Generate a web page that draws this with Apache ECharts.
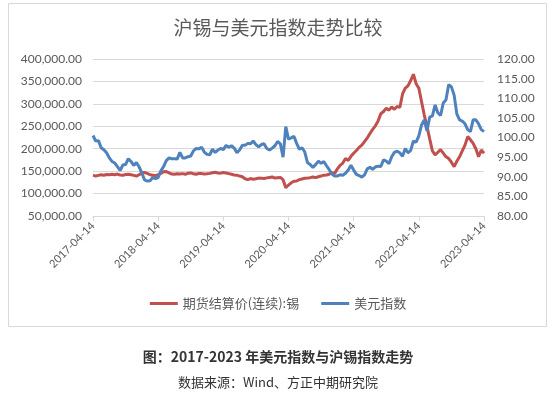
<!DOCTYPE html>
<html>
<head>
<meta charset="utf-8">
<script src="https://cdn.jsdelivr.net/npm/echarts@6/dist/echarts.min.js"></script>
<style>
html,body{margin:0;padding:0;background:#fff;}
#c{width:556px;height:395px;}
</style>
</head>
<body>
<div id="c"></div>
<script>
// Tick labels shown on the x axis
const tickLabels = ['2017-04-14','2018-04-14','2019-04-14','2020-04-14','2021-04-14','2022-04-14','2023-04-14'];

// Semi-monthly categories from 2017-04-14 to 2023-04-14
const categories = [];
for (let y = 2017; y <= 2023; y++) {
  for (let m = 1; m <= 12; m++) {
    for (const d of [14, 28]) {
      const s = y + '-' + String(m).padStart(2, '0') + '-' + d;
      if (s >= '2017-04-14' && s <= '2023-04-14') categories.push(s);
    }
  }
}

// 期货结算价(连续):锡 (yuan/ton)
const tinPrice = [
  141000,139000,140500,142000,141000,142500,142000,143000,142000,143500,141500,141000,142500,143000,142000,140500,139000,142000,
  146500,147000,145000,142000,141000,140000,142000,145000,148500,149000,146000,143500,143000,144000,143500,144500,143000,145500,146000,144000,143000,145000,144500,143500,
  144000,145000,146500,147500,146000,145500,147000,146000,144500,143000,141500,141000,139000,137500,133000,131000,133500,132000,133000,134500,134000,133500,135000,136000,
  137000,134500,135500,136000,131000,113000,119000,124000,127500,128000,131000,132500,134000,134500,135500,137000,135500,137500,139000,141000,141500,143000,146500,145000,
  155000,163000,168000,178000,174000,183000,190000,196000,203000,208000,216000,224000,234000,243000,251000,262000,278000,283000,290000,286000,293000,288000,294000,292000,
  322000,335000,340000,352000,366000,345000,335000,305000,275000,250000,222000,195000,186000,192000,198000,190000,182000,178000,170000,160000,172000,182000,195000,208000,
  227000,220000,212000,200000,182000,197000,190000
];

// 美元指数
const usdIndex = [
  100.5,99.1,99.2,97.4,96.9,96.1,94.8,93.9,93.5,92.6,91.6,93.0,93.1,94.6,93.9,92.9,93.6,92.5,
  90.9,89.2,88.9,89.0,89.8,89.5,89.8,91.5,92.6,94.1,94.8,94.6,94.6,94.5,96.2,94.8,94.8,95.1,95.3,96.6,97.2,97.1,97.5,96.3,
  95.7,95.6,97.0,96.2,96.8,97.2,96.9,98.0,97.5,97.9,97.3,96.1,96.8,98.0,98.0,98.5,98.4,99.1,98.2,97.6,98.2,98.4,97.2,96.8,
  97.3,97.9,99.0,98.4,95.0,102.8,99.6,99.9,100.3,98.5,97.0,97.4,96.3,93.6,93.1,92.4,93.1,94.0,93.4,93.9,92.8,91.8,90.7,90.2,
  90.2,90.5,90.4,90.9,91.7,92.9,91.7,90.6,90.3,89.9,90.5,92.0,92.4,91.9,92.5,92.7,92.6,94.3,94.0,93.3,95.1,96.2,96.5,96.1,
  95.2,97.2,96.1,96.7,99.1,98.8,100.4,103.2,104.5,101.7,105.2,105.5,108.3,106.3,105.6,108.8,109.6,113.5,112.9,110.8,106.0,104.5,104.2,103.5,
  102.0,101.5,104.5,104.5,103.5,102.0,101.5
];

const isTick = (i, v) => tickLabels.indexOf(v) >= 0;
const fmt = v => v.toLocaleString('en-US', {minimumFractionDigits: 2, maximumFractionDigits: 2});

const chart = echarts.init(document.getElementById('c'));
chart.setOption({
  animation: false,
  backgroundColor: '#fff',
  graphic: [{
    type: 'rect', shape: {x: 8.5, y: 3.5, width: 538, height: 323},
    style: {fill: 'none', stroke: '#D9D9D9', lineWidth: 1}, z: -1
  }],
  title: [
    {text: '沪锡与美元指数走势比较', left: 'center', top: 13,
     textStyle: {fontFamily: 'Noto Sans CJK SC', fontSize: 19, fontWeight: 'normal', color: '#595959'}},
    {text: '图：2017-2023 年美元指数与沪锡指数走势', left: 'center', top: 345,
     textStyle: {fontFamily: 'Noto Sans CJK SC', fontSize: 14, fontWeight: 'bold', color: '#333'}},
    {text: '数据来源：Wind、方正中期研究院', left: 'center', top: 371,
     textStyle: {fontFamily: 'Noto Sans CJK SC', fontSize: 13, fontWeight: 'normal', color: '#333'}}
  ],
  legend: {
    top: 292, left: 'center', itemGap: 22, itemWidth: 28, itemHeight: 3, icon: 'rect',
    textStyle: {fontFamily: 'Noto Sans CJK SC', fontSize: 13, color: '#595959'},
    data: ['期货结算价(连续):锡', '美元指数']
  },
  grid: {left: 93, right: 72, top: 59, bottom: 179},
  xAxis: {
    type: 'category', data: categories, boundaryGap: false,
    axisLine: {lineStyle: {color: '#D9D9D9'}},
    axisTick: {show: true, interval: isTick, length: 5, lineStyle: {color: '#D9D9D9'}},
    axisLabel: {interval: isTick, rotate: 45, fontFamily: 'Lato', fontSize: 11, color: '#595959', margin: 8},
    splitLine: {show: false}
  },
  yAxis: [
    {type: 'value', min: 50000, max: 400000, interval: 50000,
     axisLine: {show: false}, axisTick: {show: false},
     axisLabel: {formatter: fmt, fontFamily: 'Lato', fontSize: 12, color: '#595959', margin: 11},
     splitLine: {lineStyle: {color: '#D9D9D9'}}},
    {type: 'value', min: 80, max: 120, interval: 5,
     axisLine: {show: false}, axisTick: {show: false},
     axisLabel: {formatter: fmt, fontFamily: 'Lato', fontSize: 12, color: '#595959', margin: 13},
     splitLine: {show: false}}
  ],
  series: [
    {name: '期货结算价(连续):锡', type: 'line', yAxisIndex: 0, data: tinPrice,
     showSymbol: false, symbol: 'none', itemStyle: {color: '#C0504D'}, lineStyle: {color: '#C0504D', width: 3}},
    {name: '美元指数', type: 'line', yAxisIndex: 1, data: usdIndex,
     showSymbol: false, symbol: 'none', itemStyle: {color: '#4F81BD'}, lineStyle: {color: '#4F81BD', width: 3}}
  ]
});
</script>
</body>
</html>
